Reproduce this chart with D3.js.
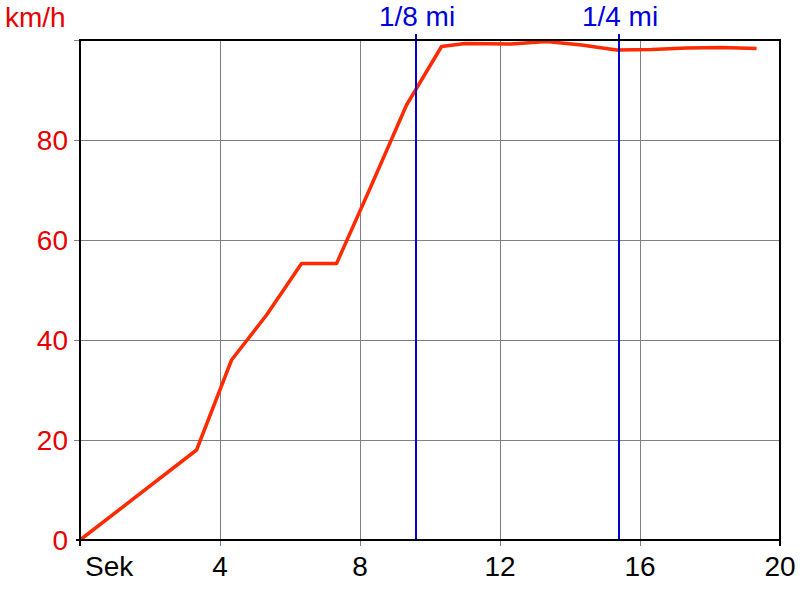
<!DOCTYPE html>
<html>
<head>
<meta charset="utf-8">
<script src="https://cdn.jsdelivr.net/npm/d3@7"></script>
<style>
  html, body { margin: 0; padding: 0; background: #fff; }
  svg { display: block; font-family: "Liberation Sans", Arial, sans-serif; }
</style>
</head>
<body>
<svg id="chart" width="800" height="600"></svg>
<script>
// Data
const timeSec = [0, 3.33, 4.33, 5.33, 6.33, 7.33, 8.33, 9.33, 10.33, 11.0, 12.33, 13.33, 14.33, 15.33, 16.33, 17.33, 18.33, 19.33];
const speedKmh = [0, 18, 36, 45, 55.3, 55.3, 71, 87, 98.7, 99.3, 99.2, 99.7, 99.0, 98.0, 98.1, 98.4, 98.5, 98.3];
const xTicks = [4, 8, 12, 16, 20];
const yTicks = [0, 20, 40, 60, 80];
const markerTimes = [9.6, 15.4];
const markerLabels = ["1/8 mi", "1/4 mi"];
const xUnitLabel = "Sek";
const yUnitLabel = "km/h";

const svg = d3.select("#chart");
const x = d3.scaleLinear().domain([0, 20]).range([80, 780]);
const y = d3.scaleLinear().domain([0, 100]).range([540, 40]);

// Grid lines
svg.append("g").selectAll("line.vg").data(xTicks).join("line")
  .attr("x1", d => x(d)).attr("x2", d => x(d))
  .attr("y1", y(100)).attr("y2", y(0) + 6)
  .attr("stroke", "#808080").attr("stroke-width", 1)
  .attr("shape-rendering", "crispEdges");
svg.append("g").selectAll("line.hg").data(yTicks.concat([100]).filter(d => d > 0)).join("line")
  .attr("x1", x(0) - 6).attr("x2", x(20))
  .attr("y1", d => y(d)).attr("y2", d => y(d))
  .attr("stroke", "#808080").attr("stroke-width", 1)
  .attr("shape-rendering", "crispEdges");

// Speed line
const line = d3.line().x((d, i) => x(timeSec[i])).y(d => y(d));
svg.append("path").datum(speedKmh)
  .attr("d", line)
  .attr("fill", "none")
  .attr("stroke", "#ff2a00")
  .attr("stroke-width", 3.5)
  .attr("stroke-linejoin", "round");

// Distance markers
svg.append("g").selectAll("line").data(markerTimes).join("line")
  .attr("x1", d => x(d)).attr("x2", d => x(d))
  .attr("y1", y(0)).attr("y2", 34)
  .attr("stroke", "#0000cc").attr("stroke-width", 2);
svg.append("g").selectAll("text").data(markerTimes).join("text")
  .attr("x", d => x(d) + 1).attr("y", 26)
  .attr("text-anchor", "middle")
  .attr("font-size", 28)
  .attr("fill", "#0000dd")
  .text((d, i) => markerLabels[i]);

// Frame
svg.append("rect")
  .attr("x", x(0)).attr("y", y(100))
  .attr("width", x(20) - x(0)).attr("height", y(0) - y(100))
  .attr("fill", "none").attr("stroke", "#000").attr("stroke-width", 2);
// Black end ticks
svg.append("g").selectAll("line").data([0, 20]).join("line")
  .attr("x1", d => x(d)).attr("x2", d => x(d))
  .attr("y1", y(0)).attr("y2", y(0) + 6)
  .attr("stroke", "#000").attr("stroke-width", 2);
svg.append("line")
  .attr("x1", x(0) - 4).attr("x2", x(0))
  .attr("y1", y(0)).attr("y2", y(0))
  .attr("stroke", "#000").attr("stroke-width", 2);

// Y tick labels
svg.append("g").selectAll("text").data(yTicks).join("text")
  .attr("x", 68).attr("y", d => y(d) + 10)
  .attr("text-anchor", "end")
  .attr("font-size", 28)
  .attr("fill", "#e60000")
  .text(d => d);
svg.append("text")
  .attr("x", 5).attr("y", 27)
  .attr("font-size", 28)
  .attr("fill", "#e60000")
  .text(yUnitLabel);

// X tick labels
svg.append("g").selectAll("text").data(xTicks).join("text")
  .attr("x", d => x(d)).attr("y", 576)
  .attr("text-anchor", "middle")
  .attr("font-size", 28)
  .attr("fill", "#000")
  .text(d => d);
svg.append("text")
  .attr("x", 85).attr("y", 576)
  .attr("font-size", 28)
  .attr("fill", "#000")
  .text(xUnitLabel);
</script>
</body>
</html>
